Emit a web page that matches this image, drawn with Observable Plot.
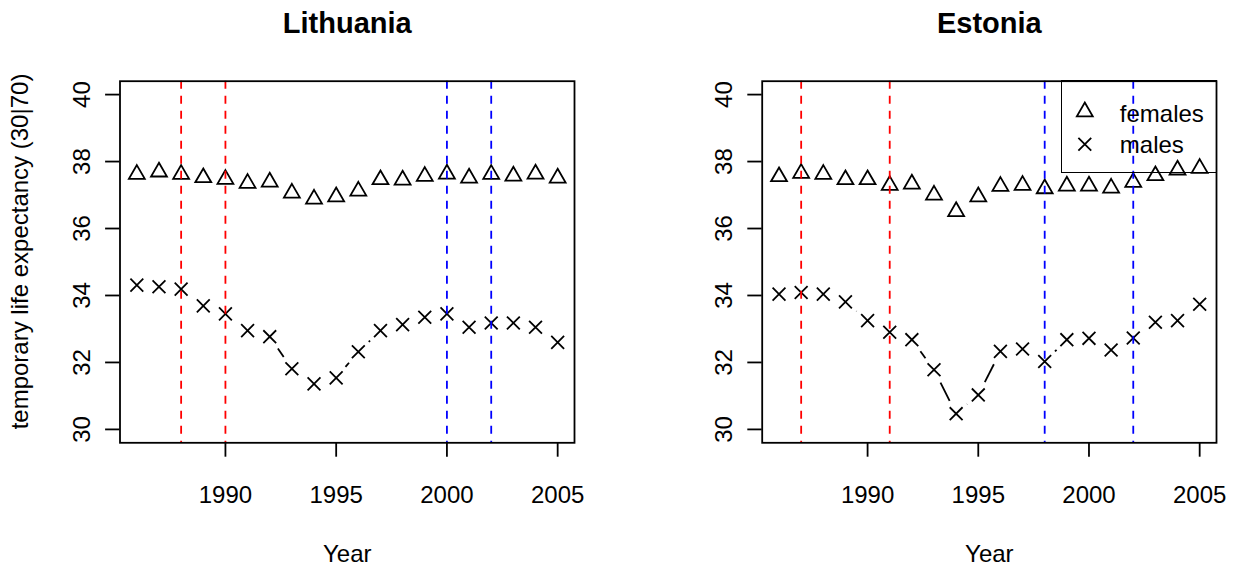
<!DOCTYPE html>
<html>
<head>
<meta charset="utf-8">
<script src="https://cdn.jsdelivr.net/npm/d3@7"></script>
<script src="https://cdn.jsdelivr.net/npm/@observablehq/plot@0.6"></script>
<style>
  html, body { margin: 0; padding: 0; background: white; }
  #wrap { position: relative; width: 1237px; height: 572px; overflow: hidden; background: white; font-family: "Liberation Sans", Arial, sans-serif; }
  .panel { position: absolute; top: 0; }
  .legendbox { position: absolute; box-sizing: border-box; border: 1.8px solid black; }
</style>
</head>
<body>
<div id="wrap"></div>
<script>
// ---- data ----
const years = [1986, 1987, 1988, 1989, 1990, 1991, 1992, 1993, 1994, 1995, 1996, 1997, 1998, 1999, 2000, 2001, 2002, 2003, 2004, 2005];

const lithFemales = [37.62, 37.69, 37.62, 37.52, 37.47, 37.35, 37.39, 37.06, 36.88, 36.95, 37.12, 37.46, 37.45, 37.56, 37.63, 37.51, 37.62, 37.57, 37.63, 37.51];
const lithMales   = [34.31, 34.26, 34.19, 33.69, 33.45, 32.95, 32.77, 31.81, 31.36, 31.54, 32.32, 32.95, 33.13, 33.35, 33.45, 33.05, 33.18, 33.18, 33.05, 32.60];

const estFemales  = [37.55, 37.65, 37.62, 37.46, 37.46, 37.29, 37.33, 37.00, 36.51, 36.95, 37.26, 37.29, 37.19, 37.27, 37.27, 37.21, 37.38, 37.58, 37.75, 37.80];
const estMales    = [34.04, 34.09, 34.04, 33.81, 33.25, 32.90, 32.68, 31.78, 30.47, 31.03, 32.33, 32.40, 32.03, 32.68, 32.72, 32.37, 32.73, 33.20, 33.25, 33.74];

const lithRed  = [1988, 1990];
const lithBlue = [2000, 2002];
const estRed   = [1987, 1991];
const estBlue  = [1998, 2002];

const titles = ["Lithuania", "Estonia"];
const xTicks = [1990, 1995, 2000, 2005];
const yTicks = [30, 32, 34, 36, 38, 40];
const xLabel = "Year";
const yLabel = "temporary life expectancy (30|70)";
const legendLabels = ["females", "males"];
const legendSymbols = ["triangle", "times"];

// ---- helpers ----
const FONT = "'Liberation Sans', Arial, Helvetica, sans-serif";
const LW = 1.8;
const R = 5.9;

function pts(vals) { return years.map((y, i) => ({year: y, v: vals[i]})); }
function segs(vals) {
  const out = [];
  for (let i = 0; i < years.length - 1; i++) out.push({x1: years[i], y1: vals[i], x2: years[i + 1], y2: vals[i + 1]});
  return out;
}

function panel({title, females, males, red, blue, width, marginLeft, marginRight, showYLabel, legend}) {
  const marks = [
    Plot.arrow(segs(females), {x1: "x1", y1: "y1", x2: "x2", y2: "y2", bend: 0, headLength: 0, inset: 14.4, stroke: "black", strokeWidth: LW, strokeLinecap: "butt"}),
    Plot.arrow(segs(males), {x1: "x1", y1: "y1", x2: "x2", y2: "y2", bend: 0, headLength: 0, inset: 14.4, stroke: "black", strokeWidth: LW, strokeLinecap: "butt"}),
    Plot.dot(pts(females), {x: "year", y: "v", symbol: "triangle", r: R, stroke: "black", strokeWidth: LW, fill: "none"}),
    Plot.dot(pts(males), {x: "year", y: "v", symbol: "times", r: R, stroke: "black", strokeWidth: LW, fill: "none"}),
    Plot.ruleX(red, {stroke: "#FF0000", strokeWidth: LW, strokeDasharray: "8,7"}),
    Plot.ruleX(blue, {stroke: "#0000FF", strokeWidth: LW, strokeDasharray: "8,7"}),
    Plot.frame({stroke: "black", strokeWidth: LW}),
    Plot.axisX(xTicks, {tickSize: 14.4, tickPadding: 28.3, tickFormat: "d", fontSize: 24, strokeWidth: LW, label: null}),
    Plot.axisY(yTicks, {tickSize: 14.4, tickPadding: 15.6, tickRotate: -90, fontSize: 24, strokeWidth: LW, label: null}),
    Plot.text([title], {frameAnchor: "top", dy: -47.7, lineAnchor: "bottom", textAnchor: "middle", fontSize: 29, fontWeight: "bold"}),
    Plot.text([xLabel], {frameAnchor: "bottom", dy: 119.4, lineAnchor: "bottom", textAnchor: "middle", fontSize: 24})
  ];
  if (showYLabel) {
    marks.push(Plot.text([yLabel], {frameAnchor: "left", dx: -92.5, dy: -10.5, rotate: -90, textAnchor: "middle", lineAnchor: "bottom", fontSize: 24}));
  }
  if (legend) {
    const symDy = [30.5, 63];
    const txtDy = [33.3, 63.9];
    legendLabels.forEach((lab, i) => {
      marks.push(Plot.dot([lab], {frameAnchor: "top-right", dx: -131.7, dy: symDy[i], symbol: legendSymbols[i], r: R, stroke: "black", strokeWidth: LW, fill: "none"}));
      marks.push(Plot.text([lab], {frameAnchor: "top-right", dx: -96.7, dy: txtDy[i], textAnchor: "start", lineAnchor: "middle", fontSize: 24}));
    });
  }
  return Plot.plot({
    width, height: 572,
    marginLeft, marginRight, marginTop: 80.7, marginBottom: 129.7,
    style: {fontFamily: FONT, fontSize: "24px", background: "white", color: "black", overflow: "visible"},
    x: {domain: [1985.24, 2005.76]},
    y: {domain: [29.6, 40.4]},
    marks
  });
}

const wrap = document.getElementById("wrap");

const p1 = panel({title: titles[0], females: lithFemales, males: lithMales, red: lithRed, blue: lithBlue, width: 618, marginLeft: 119.5, marginRight: 44, showYLabel: true, legend: false});
p1.classList.add("panel");
p1.style.left = "0px";
wrap.appendChild(p1);

const p2 = panel({title: titles[1], females: estFemales, males: estMales, red: estRed, blue: estBlue, width: 619, marginLeft: 143.7, marginRight: 21, showYLabel: false, legend: true});
p2.classList.add("panel");
p2.style.left = "618px";
wrap.appendChild(p2);

// legend box outline
const box = document.createElement("div");
box.className = "legendbox";
box.style.left = "1061.4px";
box.style.top = "79.8px";
box.style.width = (1216.9 - 1061.4) + "px";
box.style.height = (172.6 - 79.8) + "px";
wrap.appendChild(box);
</script>
</body>
</html>
